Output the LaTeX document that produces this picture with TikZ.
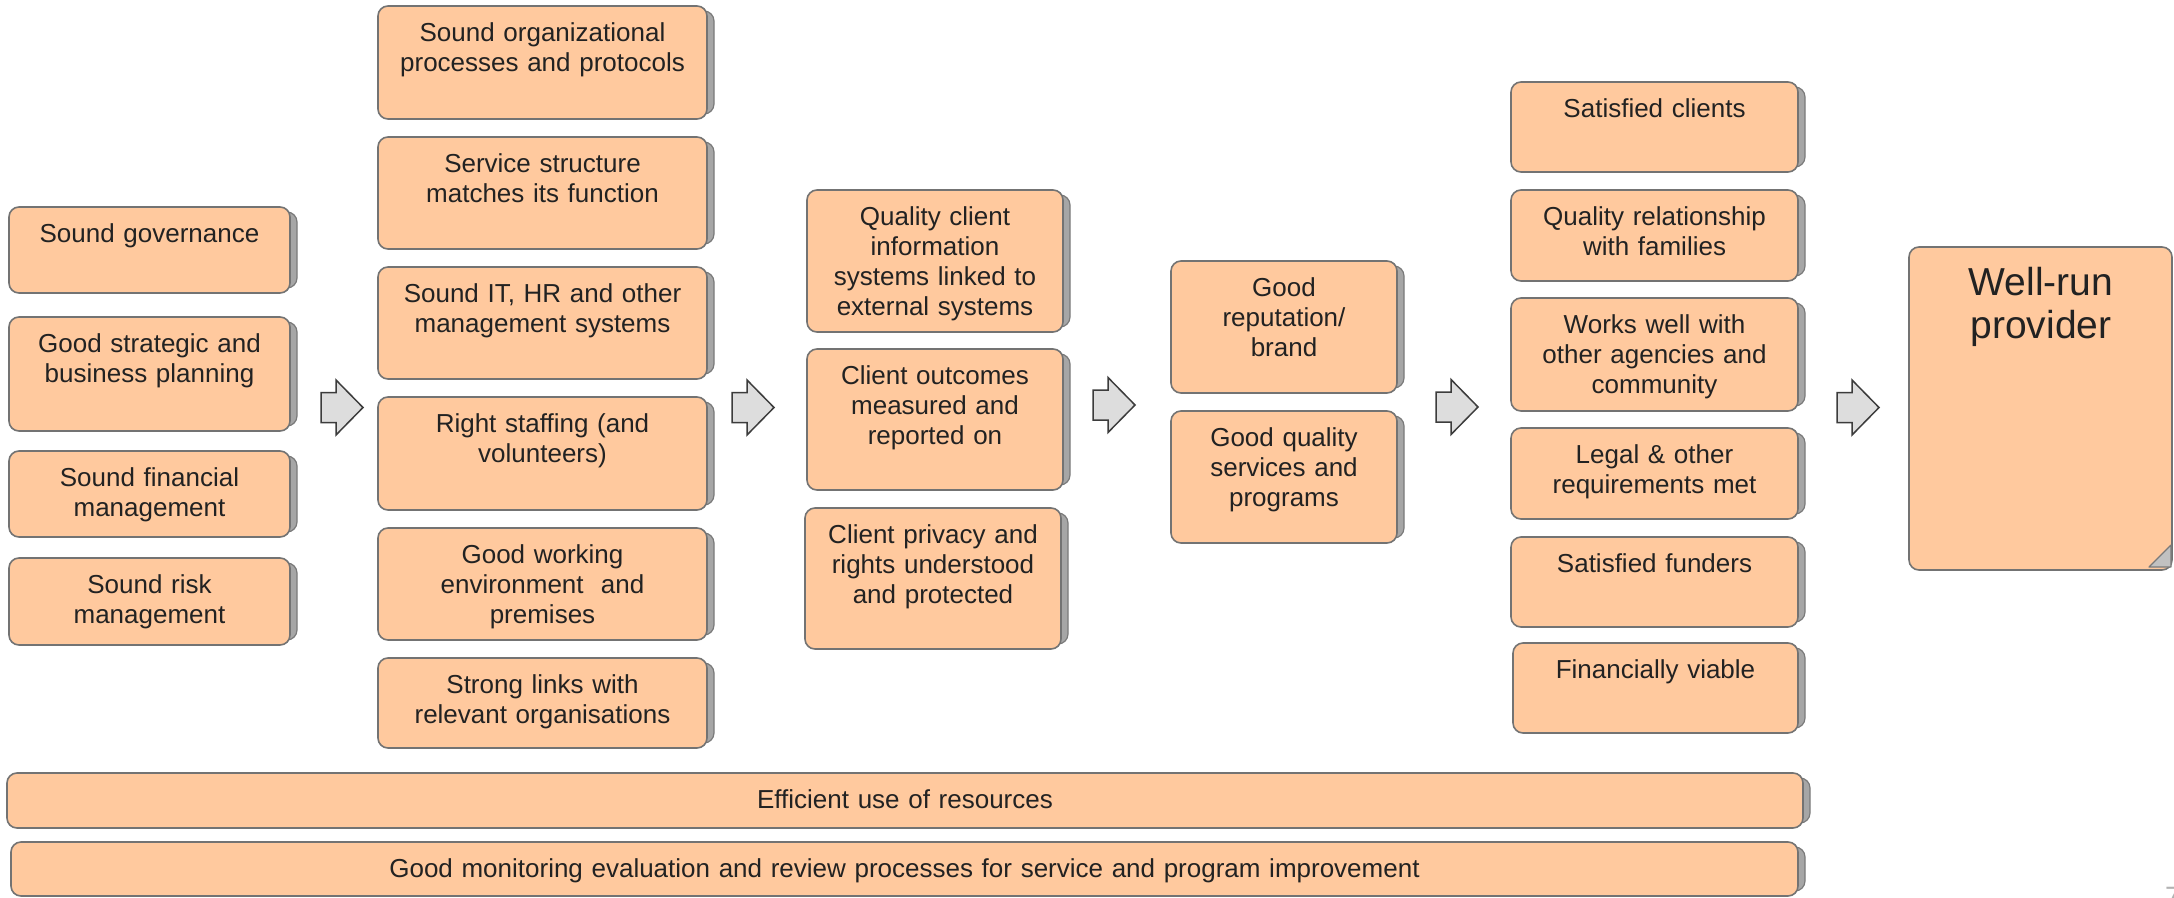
\documentclass[tikz,border=0pt]{standalone}
\usepackage{fontspec}
\setmainfont{Liberation Sans}
\definecolor{peach}{HTML}{FFC99E}
\definecolor{boxline}{HTML}{737373}
\definecolor{shfill}{HTML}{A6A6A6}
\definecolor{shline}{HTML}{7A7A7A}
\definecolor{arrfill}{HTML}{DDDDDD}
\definecolor{arrline}{HTML}{3C3C3C}
\definecolor{txtcol}{HTML}{222222}
\tikzset{
  obox/.style={draw=boxline, fill=peach, line width=1.6pt, rounded corners=10pt},
  oshadow/.style={draw=shline, fill=shfill, line width=1.2pt, rounded corners=10pt},
  otxt/.style={font=\fontsize{26}{30}\selectfont, text=txtcol, align=center, inner sep=0pt},
  bigtxt/.style={font=\fontsize{39}{43}\selectfont, text=txtcol, align=center, inner sep=0pt},
  barr/.style={draw=arrline, fill=arrfill, line width=1.5pt, line join=miter},
}
\newcommand\obox[6]{%
  \path[oshadow] ({#2+7},{#3+5}) rectangle ({#4+7},{#5-5});
  \path[obox] (#2,#3) rectangle (#4,#5);
  \node[otxt, text width={#4-#2-10}, anchor=base] (#1) at ({(#2+#4)/2},{#3+35}) {#6};
}
\newcommand\barrow[2]{%
  \path[barr] (#1,{#2-15}) -- ({#1+15},{#2-15}) -- ({#1+15},{#2-27.5}) -- ({#1+42},#2)
    -- ({#1+15},{#2+27.5}) -- ({#1+15},{#2+15}) -- (#1,{#2+15}) -- cycle;
}
\begin{document}
\begin{tikzpicture}[x=1pt,y=-1pt]
\useasboundingbox (0,0) rectangle (2174,897);
\clip (0,0) rectangle (2174,897);
\fill[white] (0,0) rectangle (2174,897);
% column 1
\obox{c1a}{9}{207}{290}{293}{Sound governance}
\obox{c1b}{9}{317}{290}{431}{Good strategic and\\business planning}
\obox{c1c}{9}{451}{290}{537}{Sound financial\\management}
\obox{c1d}{9}{558}{290}{645}{Sound risk\\management}
% column 2
\obox{c2a}{378}{6}{707}{119}{Sound organizational\\processes and protocols}
\obox{c2b}{378}{137}{707}{249}{Service structure\\matches its function}
\obox{c2c}{378}{267}{707}{379}{Sound IT, HR and other\\management systems}
\obox{c2d}{378}{397}{707}{510}{Right staffing (and\\volunteers)}
\obox{c2e}{378}{528}{707}{640}{Good working\\environment\ \ and\\premises}
\obox{c2f}{378}{658}{707}{748}{Strong links with\\relevant organisations}
% column 3
\obox{c3a}{807}{190}{1063}{332}{Quality client\\information\\systems linked to\\external systems}
\obox{c3b}{807}{349}{1063}{490}{Client outcomes\\measured and\\reported on}
\obox{c3c}{805}{508}{1061}{649}{Client privacy and\\rights understood\\and protected}
% column 4
\obox{c4a}{1171}{261}{1397}{393}{Good\\reputation/\\brand}
\obox{c4b}{1171}{411}{1397}{543}{Good quality\\services and\\programs}
% column 5
\obox{c5a}{1511}{82}{1798}{172}{Satisfied clients}
\obox{c5b}{1511}{190}{1798}{281}{Quality relationship\\with families}
\obox{c5c}{1511}{298}{1798}{411}{Works well with\\other agencies and\\community}
\obox{c5d}{1511}{428}{1798}{519}{Legal \& other\\requirements met}
\obox{c5e}{1511}{537}{1798}{627}{Satisfied funders}
\obox{c5f}{1513}{643}{1798}{733}{Financially viable}
% bottom bars
\obox{bar1}{7}{773}{1803}{828}{Efficient use of resources}
\obox{bar2}{11}{842}{1798}{896}{Good monitoring evaluation and review processes for service and program improvement}
% result
\path[obox] (1909,247) rectangle (2172,570);
\path[draw=shline, fill=shfill!70, line width=1.2pt, line join=round] (2149,567) -- (2171,545) -- (2171,567) -- cycle;
\node[bigtxt, text width=250, anchor=base] (res) at (2041,295) {Well-run\\provider};
% arrows
\barrow{321}{407.5}
\barrow{732}{407.5}
\barrow{1093}{405}
\barrow{1436}{407}
\barrow{1837}{407.5}
% page number (cut off at the edge, as in the reference)
\node[font=\fontsize{28}{30}\selectfont, text=gray!60, inner sep=0pt, anchor=north west] (pg) at (2165,887) {7};
\end{tikzpicture}
\end{document}
